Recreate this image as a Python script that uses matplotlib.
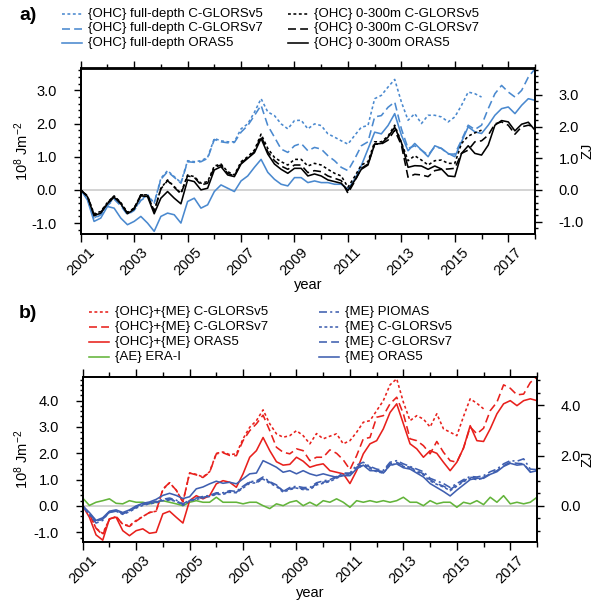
import numpy as np
import matplotlib
matplotlib.use("Agg")
import matplotlib.pyplot as plt
from matplotlib.lines import Line2D
from matplotlib.ticker import MultipleLocator, FixedLocator, FormatStrFormatter

plt.rcParams['font.family'] = ['Liberation Sans', 'DejaVu Sans']
plt.rcParams['mathtext.default'] = 'regular'
plt.rcParams['axes.unicode_minus'] = False

W, H = 604, 601
NA = np.nan

# quarterly time axis, 2001.0 .. 2018.0
years = np.arange(2001.0, 2018.01, 0.25)

# ---- panel a: OHC (10^8 J m^-2) ----
ohc_full_v5 = [0.00, -0.25, -0.85, -0.72, -0.45, -0.25, -0.45, -0.72, -0.60, -0.30, -0.15, -0.40,
               0.35, 0.58, 0.40, 0.22, 0.88, 0.85, 0.88, 0.98, 1.55, 1.48, 1.45, 1.45,
               1.84, 1.99, 2.34, 2.75, 2.35, 2.24, 1.99, 1.84, 2.09, 2.10, 1.84, 1.99,
               1.94, 1.69, 1.59, 1.48, 1.38, 1.64, 1.89, 1.94, 2.75, 2.85, 3.10, 3.33,
               2.65, 2.10, 2.30, 2.00, 2.25, 2.25, 2.20, 2.05, 2.20, 2.55, 2.95, 2.90, 2.80,
               NA, NA, NA, NA, NA, NA, NA, NA]
ohc_full_v7 = [0.00, -0.25, -0.88, -0.75, -0.48, -0.28, -0.48, -0.75, -0.62, -0.32, -0.18, -0.40,
               0.32, 0.55, 0.38, 0.20, 0.85, 0.83, 0.85, 0.95, 1.52, 1.45, 1.42, 1.43,
               1.74, 1.94, 2.24, 2.55, 1.94, 1.59, 1.23, 1.13, 1.33, 1.40, 1.18, 1.28,
               1.23, 1.03, 0.88, 0.68, 0.58, 0.93, 1.33, 1.45, 2.20, 2.24, 2.49, 2.65,
               1.84, 1.25, 1.33, 1.20, 1.05, 1.30, 1.25, 1.08, 1.08, 1.50, 1.95, 1.82, 1.95,
               2.45, 2.90, 3.15, 2.95, 2.80, 3.00, 3.40, 3.65]
ohc_full_oras5 = [0.00, -0.30, -0.95, -0.85, -0.50, -0.55, -0.85, -1.05, -0.95, -0.80, -1.00, -1.25,
                  -0.80, -0.70, -0.75, -1.00, -0.35, -0.25, -0.55, -0.45, -0.05, 0.15, 0.05, -0.05,
                  0.27, 0.42, 0.68, 0.92, 0.53, 0.32, 0.17, 0.12, 0.37, 0.37, 0.22, 0.27,
                  0.22, 0.22, 0.17, 0.17, 0.02, 0.32, 0.73, 1.23, 1.74, 1.69, 1.94, 2.30,
                  1.65, 1.18, 1.40, 1.20, 1.00, 1.33, 1.25, 1.10, 1.00, 1.45, 1.90, 1.75, 1.70,
                  1.95, 2.25, 2.45, 2.50, 2.30, 2.55, 2.75, 2.70]
ohc_300_v5 = [0.00, -0.18, -0.72, -0.65, -0.38, -0.18, -0.38, -0.68, -0.55, -0.15, -0.15, -0.65,
              0.05, 0.30, 0.10, -0.10, 0.45, 0.40, 0.20, 0.25, 0.72, 0.78, 0.55, 0.45,
              0.85, 1.00, 1.20, 1.68, 1.25, 0.98, 0.85, 0.75, 0.92, 0.92, 0.72, 0.80,
              0.75, 0.62, 0.50, 0.42, 0.08, 0.40, 0.75, 0.85, 1.45, 1.45, 1.62, 1.95,
              1.43, 0.88, 1.03, 0.90, 0.75, 0.88, 0.90, 0.80, 0.80, 1.40, 1.62, 1.72, 1.80,
              NA, NA, NA, NA, NA, NA, NA, NA]
ohc_300_v7 = [0.00, -0.18, -0.75, -0.68, -0.40, -0.18, -0.40, -0.70, -0.55, -0.15, -0.15, -0.65,
              0.03, 0.28, 0.08, -0.12, 0.42, 0.38, 0.15, 0.20, 0.68, 0.75, 0.50, 0.42,
              0.80, 0.98, 1.15, 1.62, 1.15, 0.88, 0.72, 0.62, 0.75, 0.75, 0.52, 0.58,
              0.55, 0.42, 0.35, 0.28, -0.10, 0.25, 0.65, 0.78, 1.38, 1.38, 1.50, 1.80,
              1.35, 0.38, 0.47, 0.45, 0.40, 0.58, 0.62, 0.63, 0.65, 1.10, 1.20, 1.45, 1.48,
              1.65, 1.99, 2.05, 1.95, 1.68, 1.90, 1.95, 1.90]
ohc_300_oras5 = [0.00, -0.20, -0.78, -0.70, -0.42, -0.22, -0.42, -0.72, -0.58, -0.18, -0.20, -0.72,
                 -0.25, -0.05, -0.25, -0.42, 0.30, 0.25, 0.00, 0.05, 0.60, 0.70, 0.45, 0.40,
                 0.78, 0.95, 1.12, 1.55, 1.08, 0.78, 0.62, 0.50, 0.65, 0.65, 0.42, 0.48,
                 0.42, 0.30, 0.25, 0.20, -0.02, 0.28, 0.62, 0.75, 1.38, 1.40, 1.59, 1.89,
                 1.43, 0.68, 0.73, 0.72, 0.62, 0.72, 0.63, 0.42, 0.40, 1.10, 1.33, 1.10, 1.05,
                 1.35, 1.95, 2.09, 2.05, 1.78, 1.98, 2.04, 1.80]

# ---- panel b: OHC+ME, ME, AE (10^8 J m^-2) ----
tot_v5 = [0.00, -0.30, -0.85, -1.05, -0.50, -0.40, -0.70, -0.75, -0.55, -0.40, -0.25, -0.20,
          0.62, 0.88, 0.60, 0.15, 1.25, 1.20, 1.10, 1.30, 2.00, 2.05, 1.95, 1.98,
          2.55, 2.99, 3.24, 3.65, 3.12, 2.74, 2.61, 2.67, 2.86, 2.67, 2.36, 2.75,
          2.55, 2.65, 2.74, 2.36, 2.48, 2.80, 3.18, 3.24, 3.62, 4.00, 4.60, 4.83,
          3.94, 3.24, 3.43, 3.30, 3.00, 3.50, 2.93, 2.80, 2.67, 3.40, 4.07, 3.90, 3.69,
          NA, NA, NA, NA, NA, NA, NA, NA]
tot_v7 = [0.00, -0.30, -0.85, -1.10, -0.50, -0.40, -0.70, -0.78, -0.58, -0.40, -0.25, -0.20,
          0.65, 0.88, 0.60, 0.15, 1.25, 1.18, 1.08, 1.28, 1.98, 2.02, 1.92, 1.91,
          2.48, 2.86, 3.12, 3.45, 2.86, 2.23, 2.04, 1.98, 2.17, 2.10, 1.72, 1.85,
          1.85, 2.13, 2.00, 1.75, 1.38, 1.91, 2.55, 2.60, 3.37, 3.43, 3.88, 4.13,
          3.50, 2.55, 2.48, 2.29, 1.98, 2.45, 2.04, 1.72, 1.66, 2.20, 3.00, 2.74, 2.95,
          3.62, 3.94, 4.60, 4.47, 4.22, 4.25, 4.69, 4.90]
tot_oras5 = [0.00, -0.43, -1.10, -1.30, -0.49, -0.43, -0.94, -1.13, -0.94, -0.87, -1.04, -1.00,
             -0.30, -0.20, -0.43, -0.65, 0.20, 0.39, 0.27, 0.39, 0.84, 0.96, 0.90, 0.71,
             1.22, 1.85, 2.10, 2.60, 2.10, 1.68, 1.55, 1.58, 1.85, 1.70, 1.47, 1.55,
             1.60, 1.34, 1.28, 1.22, 0.85, 1.34, 1.98, 2.36, 2.48, 2.93, 3.55, 3.88,
             3.12, 2.36, 2.17, 1.85, 2.10, 2.00, 1.66, 1.34, 1.66, 2.20, 3.05, 2.48, 2.45,
             2.93, 3.50, 3.88, 4.00, 3.81, 4.00, 4.07, 4.00]
ae_erai = [0.30, 0.02, 0.14, 0.20, 0.27, 0.10, 0.08, 0.20, 0.14, 0.14, 0.08, 0.14,
           0.20, 0.14, 0.08, 0.01, 0.14, 0.20, 0.14, 0.14, 0.33, 0.14, 0.14, 0.14,
           0.08, 0.14, 0.14, 0.01, -0.10, 0.08, 0.01, 0.14, 0.20, 0.01, 0.14, 0.01,
           0.20, 0.14, 0.27, 0.14, -0.05, 0.20, 0.14, 0.20, 0.14, 0.20, 0.14, 0.20,
           0.33, 0.14, 0.14, 0.01, 0.20, 0.08, 0.14, 0.14, -0.05, 0.14, 0.08, 0.20, 0.05,
           0.33, 0.14, 0.39, 0.08, 0.14, 0.08, 0.14, 0.33]
me_piomas = [0.00, -0.35, -0.65, -0.55, -0.22, -0.18, -0.28, -0.18, -0.02, 0.08, 0.12, 0.18,
             0.25, 0.30, 0.22, 0.08, 0.22, 0.30, 0.36, 0.40, 0.50, 0.50, 0.58, 0.55,
             0.75, 0.92, 0.95, 1.10, 0.92, 0.80, 0.55, 0.70, 0.75, 0.70, 0.70, 0.88,
             0.95, 1.00, 1.12, 1.25, 1.25, 1.55, 1.66, 1.50, 1.40, 1.35, 1.66, 1.72,
             1.60, 1.50, 1.40, 1.30, 1.05, 0.95, 0.85, 0.70, 0.85, 1.00, 1.12, 1.10, 1.15,
             1.30, 1.40, 1.60, 1.72, 1.70, 1.79, 1.40, 1.38]
me_v5 = [0.00, -0.28, -0.58, -0.48, -0.22, -0.20, -0.32, -0.22, -0.08, 0.02, 0.08, 0.12,
         0.20, 0.22, 0.18, 0.02, 0.18, 0.25, 0.30, 0.36, 0.44, 0.44, 0.52, 0.50,
         0.68, 0.86, 0.88, 1.02, 0.86, 0.74, 0.52, 0.62, 0.68, 0.62, 0.62, 0.80,
         0.86, 0.93, 1.05, 1.18, 1.18, 1.42, 1.55, 1.42, 1.30, 1.25, 1.55, 1.60,
         1.50, 1.42, 1.30, 1.18, 0.95, 0.82, 0.72, 0.58, 0.75, 0.92, 1.05, 1.00, 1.05,
         NA, NA, NA, NA, NA, NA, NA, NA]
me_v7 = [0.00, -0.30, -0.60, -0.50, -0.25, -0.20, -0.30, -0.20, -0.05, 0.05, 0.10, 0.15,
         0.22, 0.25, 0.20, 0.05, 0.20, 0.27, 0.33, 0.38, 0.46, 0.46, 0.55, 0.52,
         0.71, 0.90, 0.90, 1.05, 0.90, 0.77, 0.58, 0.65, 0.71, 0.65, 0.65, 0.84,
         0.90, 0.96, 1.09, 1.22, 1.22, 1.47, 1.60, 1.47, 1.35, 1.30, 1.60, 1.66,
         1.53, 1.47, 1.34, 1.22, 1.00, 0.85, 0.75, 0.62, 0.80, 0.95, 1.09, 1.05, 1.09,
         1.22, 1.34, 1.53, 1.66, 1.62, 1.60, 1.30, 1.34]
me_oras5 = [0.00, -0.25, -0.55, -0.45, -0.20, -0.15, -0.25, -0.15, 0.00, 0.10, 0.15, 0.25,
            0.40, 0.48, 0.40, 0.28, 0.35, 0.65, 0.72, 0.84, 0.94, 0.86, 0.90, 0.84,
            1.03, 1.22, 1.25, 1.72, 1.60, 1.47, 1.28, 1.34, 1.22, 1.34, 1.22, 1.15,
            1.22, 1.15, 1.09, 1.15, 1.15, 1.41, 1.55, 1.34, 1.34, 1.25, 1.55, 1.60,
            1.45, 1.40, 1.25, 1.10, 0.85, 0.70, 0.55, 0.38, 0.60, 0.80, 1.00, 1.05, 1.05,
            1.20, 1.30, 1.50, 1.62, 1.55, 1.58, 1.28, 1.34]

year_ticks = [2001, 2003, 2005, 2007, 2009, 2011, 2013, 2015, 2017]
ZJ_PER_UNIT = 1.048

BLUE_A = '#4a89cf'
BLUE_B = '#3f5fb0'
RED = '#e8201c'
GREEN = '#63b43a'
DOT = (0, (1.8, 1.6))
DASH = (0, (5.0, 2.6))
DASHDOT = (0, (5.0, 2.0, 1.3, 2.0))
LW = 1.15
FS = 10.5


def setup_axes(ax, ylim, left_major, right_major, right_minor):
    ax.set_xlim(2001, 2018)
    ax.set_ylim(*ylim)
    ax.axhline(0, color='#cccccc', lw=1.2, zorder=0)
    ax.xaxis.set_major_locator(FixedLocator(year_ticks))
    ax.xaxis.set_minor_locator(MultipleLocator(1))
    ax.yaxis.set_major_locator(FixedLocator(left_major))
    ax.yaxis.set_minor_locator(MultipleLocator(0.2))
    ax.yaxis.set_major_formatter(FormatStrFormatter('%.1f'))
    ax.tick_params(axis='both', which='both', direction='out', labelsize=FS, width=1.0)
    ax.tick_params(axis='x', which='both', top=True)
    ax.tick_params(axis='x', which='major', length=6, pad=2)
    ax.tick_params(axis='x', which='minor', length=3.5)
    ax.tick_params(axis='y', which='major', length=5, pad=12)
    ax.tick_params(axis='y', which='minor', length=2.5)
    for lab in ax.get_xticklabels():
        lab.set_rotation(45)
        lab.set_ha('center')
    for s in ax.spines.values():
        s.set_linewidth(1.3)
    ax.set_xlabel('year', fontsize=FS, labelpad=0)

    ax2 = ax.twinx()
    ax2.set_ylim(ylim[0] * ZJ_PER_UNIT, ylim[1] * ZJ_PER_UNIT)
    ax2.yaxis.set_major_locator(FixedLocator(right_major))
    ax2.yaxis.set_minor_locator(MultipleLocator(right_minor))
    ax2.yaxis.set_major_formatter(FormatStrFormatter('%.1f'))
    ax2.tick_params(axis='y', which='both', direction='out', labelsize=FS, width=1.0)
    ax2.tick_params(axis='y', which='major', length=5, pad=12)
    ax2.tick_params(axis='y', which='minor', length=2.5)
    for s in ax2.spines.values():
        s.set_linewidth(1.3)
    return ax2


def legend_entry(fig, x0, y, label, **style):
    fig.add_artist(Line2D([x0 / W, (x0 + 20) / W], [1 - y / H, 1 - y / H],
                          transform=fig.transFigure, lw=LW, **style))
    fig.text((x0 + 26) / W, 1 - y / H, label, va='center', ha='left', fontsize=9.5)


fig = plt.figure(figsize=(W / 100, H / 100), dpi=100)

# panel a
ax_a = fig.add_axes([80.7 / W, 1 - 234 / H, 454.3 / W, 165.5 / H])
ax_a.plot(years, ohc_full_v5, color=BLUE_A, lw=LW, ls=DOT)
ax_a.plot(years, ohc_full_v7, color=BLUE_A, lw=LW, ls=DASH)
ax_a.plot(years, ohc_full_oras5, color=BLUE_A, lw=LW, ls='-')
ax_a.plot(years, ohc_300_v5, color='black', lw=LW, ls=DOT)
ax_a.plot(years, ohc_300_v7, color='black', lw=LW, ls=DASH)
ax_a.plot(years, ohc_300_oras5, color='black', lw=LW, ls='-')
setup_axes(ax_a, (-1.33, 3.66), [-1, 0, 1, 2, 3], [-1, 0, 1, 2, 3], 0.2)

# panel b
ax_b = fig.add_axes([82.7 / W, 1 - 542 / H, 454.3 / W, 165.3 / H])
ax_b.plot(years, ae_erai, color=GREEN, lw=LW, ls='-')
ax_b.plot(years, tot_v5, color=RED, lw=LW, ls=DOT)
ax_b.plot(years, tot_v7, color=RED, lw=LW, ls=DASH)
ax_b.plot(years, tot_oras5, color=RED, lw=LW, ls='-')
ax_b.plot(years, me_piomas, color=BLUE_B, lw=LW, ls=DASHDOT)
ax_b.plot(years, me_v5, color=BLUE_B, lw=LW, ls=DOT)
ax_b.plot(years, me_v7, color=BLUE_B, lw=LW, ls=DASH)
ax_b.plot(years, me_oras5, color=BLUE_B, lw=LW, ls='-')
setup_axes(ax_b, (-1.37, 4.91), [-1, 0, 1, 2, 3, 4], [0, 2, 4], 0.5)

# axis titles
for yc in (151, 459):
    fig.text(22 / W, 1 - yc / H, '10$^{8}$ Jm$^{-2}$', rotation=90, va='center', ha='center', fontsize=FS)
    fig.text(588 / W, 1 - yc / H, 'ZJ', rotation=90, va='center', ha='center', fontsize=FS)

# panel labels
fig.text(28 / W, 1 - 16 / H, 'a)', fontsize=14, fontweight='bold', va='center', ha='center')
fig.text(28 / W, 1 - 314 / H, 'b)', fontsize=14, fontweight='bold', va='center', ha='center')

# legends
legend_entry(fig, 62, 14, '{OHC} full-depth C-GLORSv5', color=BLUE_A, ls=DOT)
legend_entry(fig, 62, 28.5, '{OHC} full-depth C-GLORSv7', color=BLUE_A, ls=DASH)
legend_entry(fig, 62, 43, '{OHC} full-depth ORAS5', color=BLUE_A, ls='-')
legend_entry(fig, 288, 14, '{OHC} 0-300m C-GLORSv5', color='black', ls=DOT)
legend_entry(fig, 288, 28.5, '{OHC} 0-300m C-GLORSv7', color='black', ls=DASH)
legend_entry(fig, 288, 43, '{OHC} 0-300m ORAS5', color='black', ls='-')

legend_entry(fig, 89, 312, '{OHC}+{ME} C-GLORSv5', color=RED, ls=DOT)
legend_entry(fig, 89, 327, '{OHC}+{ME} C-GLORSv7', color=RED, ls=DASH)
legend_entry(fig, 89, 342, '{OHC}+{ME} ORAS5', color=RED, ls='-')
legend_entry(fig, 89, 357, '{AE} ERA-I', color=GREEN, ls='-')
legend_entry(fig, 319, 312, '{ME} PIOMAS', color=BLUE_B, ls=DASHDOT)
legend_entry(fig, 319, 327, '{ME} C-GLORSv5', color=BLUE_B, ls=DOT)
legend_entry(fig, 319, 342, '{ME} C-GLORSv7', color=BLUE_B, ls=DASH)
legend_entry(fig, 319, 357, '{ME} ORAS5', color=BLUE_B, ls='-')

fig.savefig('out.png', dpi=100)
